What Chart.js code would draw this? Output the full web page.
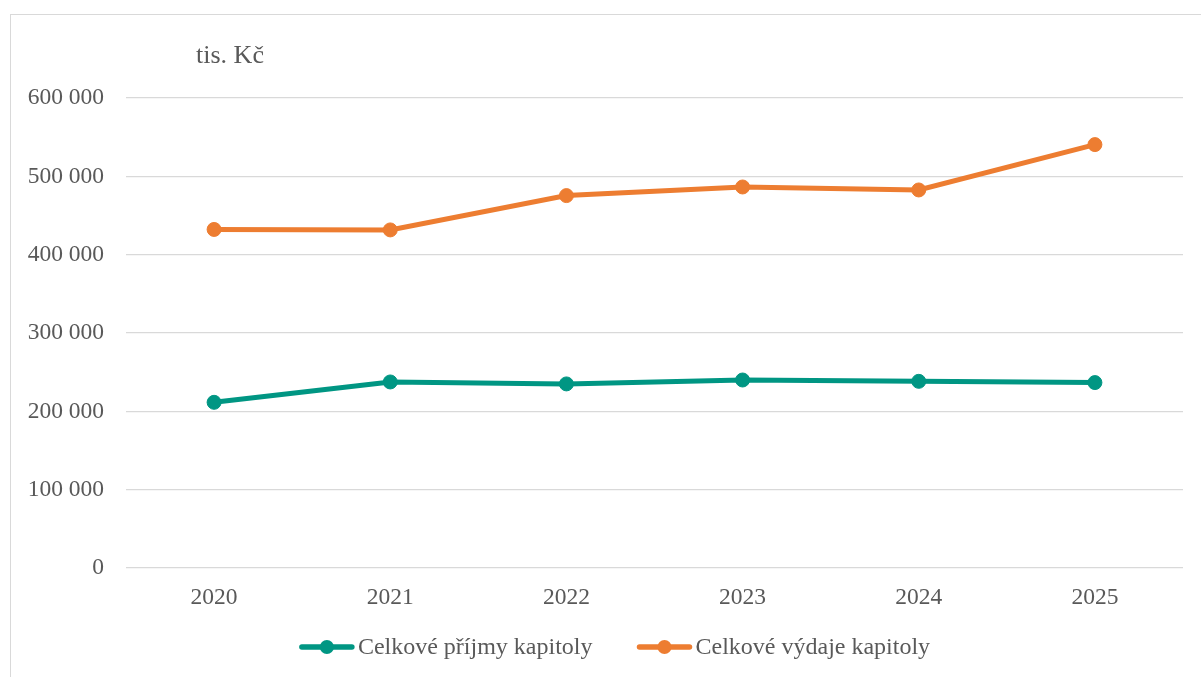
<!DOCTYPE html>
<html lang="cs">
<head>
<meta charset="utf-8">
<title>Celkové příjmy a výdaje kapitoly</title>
<script src="https://cdn.jsdelivr.net/npm/chart.js@4/dist/chart.umd.min.js"></script>
<style>
  html, body { margin: 0; padding: 0; background: #ffffff; overflow: hidden; }
  #wrap { position: relative; width: 1201px; height: 677px; }
</style>
</head>
<body>
<div id="wrap"><canvas id="chart" width="1201" height="677"></canvas></div>
<script>
// Roky a hodnoty v tis. Kč
const years = ['2020', '2021', '2022', '2023', '2024', '2025'];
const prijmy = [211500, 237500, 235000, 240000, 238300, 236700];
const vydaje = [432200, 431600, 475400, 486400, 482600, 540500];
const seriesNames = ['Celkové příjmy kapitoly', 'Celkové výdaje kapitoly'];
const unitLabel = 'tis. Kč';

const GREEN = '#009683';
const ORANGE = '#ED7D31';
const TEXT = '#595959';
const GRID = '#D9D9D9';
const FONT = '"Liberation Serif", "Times New Roman", serif';
const FS = 23.5;

const fmt = v => String(v).replace(/\B(?=(\d{3})+(?!\d))/g, ' ');

// frame around the whole chart, unit caption and the line+marker legend
const decor = {
  id: 'decor',
  beforeDraw(chart) {
    const ctx = chart.ctx;
    ctx.save();
    ctx.strokeStyle = GRID;
    ctx.lineWidth = 1;
    ctx.strokeRect(10.5, 14.5, 1400, 1000);
    ctx.restore();
  },
  afterDraw(chart) {
    const ctx = chart.ctx;
    ctx.save();
    ctx.font = '26px ' + FONT;
    ctx.fillStyle = TEXT;
    ctx.textBaseline = 'alphabetic';
    ctx.textAlign = 'center';
    ctx.fillText(unitLabel, 230, 63);

    // legend
    ctx.font = '24px ' + FONT;
    const lineW = 54, gap = 4, itemGap = 45, cy = 647;
    const items = chart.data.datasets.map(ds => ({
      text: ds.label, color: ds.borderColor,
      w: lineW + gap + ctx.measureText(ds.label).width
    }));
    const total = items.reduce((s, it) => s + it.w, 0) + itemGap * (items.length - 1);
    let x = 615 - total / 2;
    ctx.textAlign = 'left';
    ctx.textBaseline = 'middle';
    items.forEach(it => {
      ctx.strokeStyle = it.color;
      ctx.lineWidth = 5.5;
      ctx.lineCap = 'round';
      ctx.beginPath();
      ctx.moveTo(x + 2, cy);
      ctx.lineTo(x + lineW - 2, cy);
      ctx.stroke();
      ctx.fillStyle = it.color;
      ctx.beginPath();
      ctx.arc(x + lineW / 2, cy, 7, 0, Math.PI * 2);
      ctx.fill();
      ctx.fillStyle = TEXT;
      ctx.fillText(it.text, x + lineW + gap, cy + 1);
      x += it.w + itemGap;
    });
    ctx.restore();
  }
};

new Chart(document.getElementById('chart'), {
  type: 'line',
  data: {
    labels: years,
    datasets: [
      {
        label: seriesNames[0],
        data: prijmy,
        borderColor: GREEN,
        backgroundColor: GREEN,
        borderWidth: 5,
        pointRadius: 7,
        pointBorderWidth: 1,
        pointBackgroundColor: GREEN,
        pointBorderColor: GREEN,
        tension: 0
      },
      {
        label: seriesNames[1],
        data: vydaje,
        borderColor: ORANGE,
        backgroundColor: ORANGE,
        borderWidth: 5,
        pointRadius: 7,
        pointBorderWidth: 1,
        pointBackgroundColor: ORANGE,
        pointBorderColor: ORANGE,
        tension: 0
      }
    ]
  },
  options: {
    responsive: false,
    animation: false,
    layout: { padding: { left: 0, right: 18, top: 98, bottom: 0 } },
    plugins: {
      legend: { display: false },
      tooltip: { enabled: false },
      title: { display: false }
    },
    scales: {
      x: {
        offset: true,
        grid: { display: false, drawTicks: false },
        border: { display: false },
        ticks: { color: TEXT, font: { family: FONT, size: FS }, padding: 16 },
        afterFit(scale) { scale.height = 109; }
      },
      y: {
        min: 0,
        max: 600000,
        grid: { color: GRID, lineWidth: 1.3, drawTicks: false },
        border: { display: false },
        ticks: {
          stepSize: 100000,
          color: TEXT,
          font: { family: FONT, size: FS },
          padding: 22,
          callback: v => fmt(v)
        },
        afterFit(scale) { scale.width = 126; }
      }
    }
  },
  plugins: [decor]
});
</script>
</body>
</html>
